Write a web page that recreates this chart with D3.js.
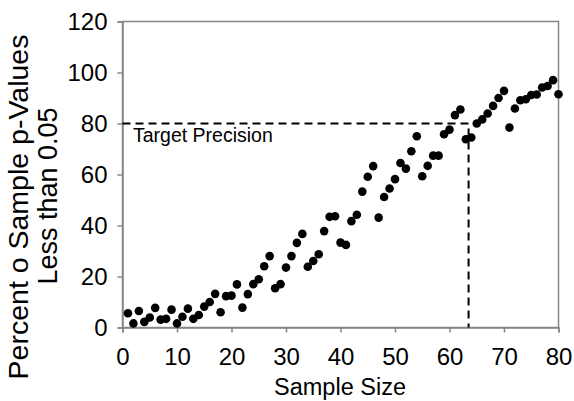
<!DOCTYPE html>
<html>
<head>
<meta charset="utf-8">
<script src="https://cdn.jsdelivr.net/npm/d3@7"></script>
<style>
  body { margin: 0; background: #fff; }
  text { font-family: "Liberation Sans", Arial, sans-serif; fill: #000; }
</style>
</head>
<body>
<svg width="574" height="401"></svg>
<script>

const sampleSizes = d3.range(1, 81);

const percentSignificant = [
   5.6,  1.6,  6.5,  2.2,  3.9,  7.7,  3.1,  3.4,  7.0,  1.6,
   4.2,  7.4,  3.4,  4.9,  8.2,  10.0, 13.2, 6.0, 12.3, 12.5,
  16.9,  7.8, 13.1, 17.0, 18.9, 24.0, 28.0, 15.4, 17.0, 23.5,
  28.0, 33.2, 36.7, 23.8, 26.1, 28.7, 37.8, 43.4, 43.6, 33.3,
  32.4, 41.7, 44.2, 53.3, 59.1, 63.3, 43.1, 51.2, 54.5, 58.2,
  64.5, 62.3, 69.1, 75.0, 59.3, 63.4, 67.4, 67.4, 75.8, 77.6,
  83.3, 85.5, 73.8, 74.5, 80.0, 81.6, 83.9, 86.9, 90.0, 92.8,
  78.4, 85.9, 89.1, 89.5, 91.2, 91.4, 94.1, 94.7, 97.0, 91.5
];

const xTicks = [0, 10, 20, 30, 40, 50, 60, 70, 80];
const yTicks = [0, 20, 40, 60, 80, 100, 120];

const targetPrecision = 80;
const targetSampleSize = 63.5;

const data = sampleSizes.map((n, i) => ({ n: n, pct: percentSignificant[i] }));

const svg = d3.select('svg');

const margin = { top: 21.5, right: 15.5, bottom: 73.5, left: 122.5 };
const width = +svg.attr('width') - margin.left - margin.right;
const height = +svg.attr('height') - margin.top - margin.bottom;

const xScale = d3.scaleLinear().domain([0, 80]).range([0, width]);
const yScale = d3.scaleLinear().domain([0, 120]).range([height, 0]);

const g = svg.append('g')
  .attr('transform', `translate(${margin.left},${margin.top})`);

// plot frame
g.append('rect')
  .attr('width', width)
  .attr('height', height)
  .attr('fill', 'none')
  .attr('stroke', '#868686')
  .attr('stroke-width', 1.5);

const xAxisG = g.append('g')
  .attr('transform', `translate(0,${height})`)
  .call(d3.axisBottom(xScale).tickValues(xTicks).tickSize(5).tickPadding(15));

const yAxisG = g.append('g')
  .call(d3.axisLeft(yScale).tickValues(yTicks).tickSize(5).tickPadding(10));

[xAxisG, yAxisG].forEach(a => {
  a.select('.domain').attr('stroke', '#868686').attr('stroke-width', 1.5);
  a.selectAll('.tick line').attr('stroke', '#868686').attr('stroke-width', 1.5);
  a.selectAll('.tick text')
    .style('font-family', '"Liberation Sans", Arial, sans-serif')
    .style('font-size', '24px')
    .attr('fill', '#000');
});

// target precision guide
g.append('path')
  .attr('d', d3.line()([
    [xScale(0), yScale(targetPrecision)],
    [xScale(targetSampleSize), yScale(targetPrecision)],
    [xScale(targetSampleSize), yScale(0)]
  ]))
  .attr('fill', 'none')
  .attr('stroke', '#000')
  .attr('stroke-width', 2)
  .attr('stroke-dasharray', '8,5');

g.append('text')
  .attr('x', 10.5)
  .attr('y', yScale(targetPrecision) + 18)
  .style('font-size', '19.5px')
  .text('Target Precision');

g.selectAll('circle').data(data)
  .enter().append('circle')
    .attr('cx', d => xScale(d.n))
    .attr('cy', d => yScale(d.pct))
    .attr('r', 4.3)
    .attr('fill', '#000');

// axis titles
svg.append('text')
  .attr('x', 340)
  .attr('y', 395)
  .attr('text-anchor', 'middle')
  .style('font-size', '23.5px')
  .text('Sample Size');

svg.append('text')
  .attr('transform', 'translate(28,207) rotate(-90)')
  .attr('text-anchor', 'middle')
  .style('font-size', '28.5px')
  .text('Percent o Sample p-Values');

svg.append('text')
  .attr('transform', 'translate(57,196) rotate(-90)')
  .attr('text-anchor', 'middle')
  .style('font-size', '27px')
  .text('Less than 0.05');

</script>
</body>
</html>
